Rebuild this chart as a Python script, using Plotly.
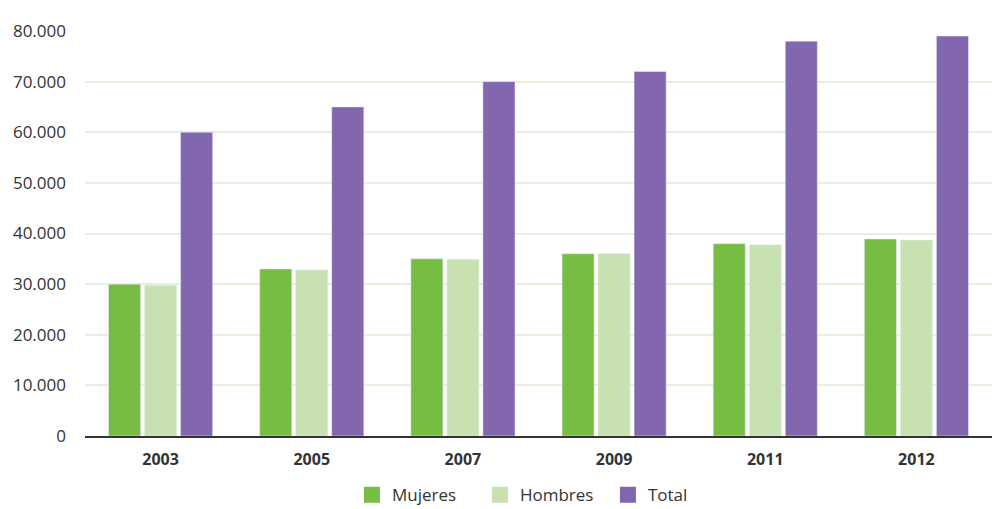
import plotly.graph_objects as go

years = ["2003", "2005", "2007", "2009", "2011", "2012"]
mujeres = [30000, 33000, 35000, 36000, 38000, 38900]
hombres = [29800, 32800, 34900, 36000, 37800, 38700]
total = [60000, 65000, 70000, 72000, 78000, 79000]
y_ticks = [0, 10000, 20000, 30000, 40000, 50000, 60000, 70000, 80000]

names = ["Mujeres", "Hombres", "Total"]
colors = ["#77bd43", "#c8e1b0", "#8266ae"]
series = [mujeres, hombres, total]

fig = go.Figure()
for n, c, s in zip(names, colors, series):
    fig.add_bar(x=years, y=s, name=n, marker_color=c, showlegend=False, legendgroup=n)
# legend-only entries with larger square swatches
for n, c in zip(names, colors):
    fig.add_scatter(x=[None], y=[None], mode="markers", name=n, legendgroup=n,
                    marker=dict(symbol="square", size=16, color=c), showlegend=True)

fig.update_layout(
    width=992, height=509,
    margin=dict(l=85, r=0, t=31, b=73, autoexpand=False),
    paper_bgcolor="white", plot_bgcolor="white",
    separators=",.",
    barmode="group", bargap=0.285, bargroupgap=0.11,
    font=dict(family="Open Sans", color="#333333", size=17),
    legend=dict(orientation="h", x=0.506, xanchor="center", y=-0.146, yanchor="middle",
                font=dict(size=17, color="#333333"), itemwidth=30, traceorder="normal",
                entrywidth=83, entrywidthmode="pixels"),
    showlegend=True,
)
fig.update_yaxes(range=[0, 80000], tickvals=y_ticks, tickformat=",.0f",
                 showgrid=True, gridcolor="#e6f0dc", gridwidth=2,
                 zeroline=False, ticks="", ticklabelstandoff=18,
                 tickfont=dict(size=17, color="#333333"), automargin=False)
fig.update_xaxes(showline=True, linecolor="#333333", linewidth=2, ticks="",
                 ticklabelstandoff=8, automargin=False, layer="below traces",
                 tickfont=dict(size=16, color="#333333", weight="bold"))

fig.write_html("out.html")
